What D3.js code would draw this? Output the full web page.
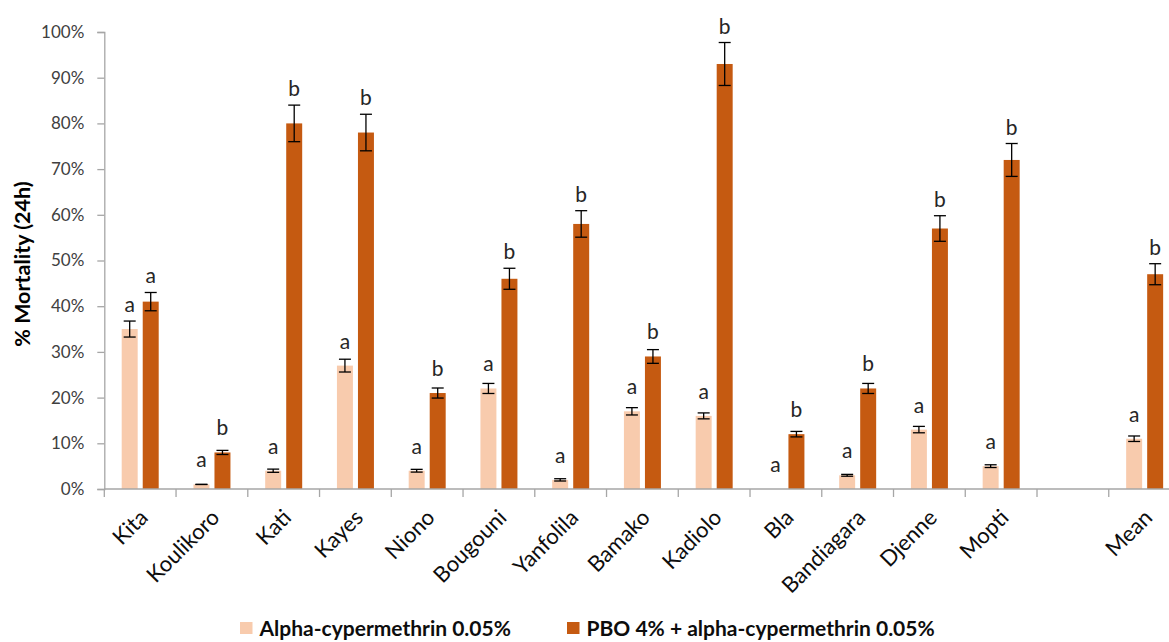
<!DOCTYPE html>
<html>
<head>
<meta charset="utf-8">
<script src="https://cdn.jsdelivr.net/npm/d3@7"></script>
<style>
  html, body { margin: 0; padding: 0; background: #fff; }
  svg { display: block; font-family: Lato, "Open Sans", sans-serif; }
</style>
</head>
<body>
<svg id="chart" width="1169" height="642"></svg>
<script>
// Sites (an empty slot separates the sites from the overall mean)
const categories = ["Kita", "Koulikoro", "Kati", "Kayes", "Niono", "Bougouni", "Yanfolila",
  "Bamako", "Kadiolo", "Bla", "Bandiagara", "Djenne", "Mopti", "", "Mean"];

// % mortality after 24h, alpha-cypermethrin 0.05% alone
const alphaValues = [35, 1, 4, 27, 4, 22, 2, 17, 16, 0, 3, 13, 5, null, 11];
const alphaErrors = [1.75, 0, 0.35, 1.4, 0.3, 1.1, 0.25, 0.8, 0.65, null, 0.2, 0.7, 0.3, null, 0.6];
const alphaLetters = ["a", "a", "a", "a", "a", "a", "a", "a", "a", "a", "a", "a", "a", "", "a"];

// % mortality after 24h, PBO 4% pre-exposure + alpha-cypermethrin 0.05%
const pboValues = [41, 8, 80, 78, 21, 46, 58, 29, 93, 12, 22, 57, 72, null, 47];
const pboErrors = [2, 0.45, 4, 4, 1.1, 2.3, 2.9, 1.5, 4.7, 0.6, 1.1, 2.8, 3.6, null, 2.3];
const pboLetters = ["a", "b", "b", "b", "b", "b", "b", "b", "b", "b", "b", "b", "b", "", "b"];

const seriesNames = ["Alpha-cypermethrin 0.05%", "PBO 4% + alpha-cypermethrin 0.05%"];
const seriesColors = ["#F8CBAD", "#C55A11"];

const yTicks = [0, 10, 20, 30, 40, 50, 60, 70, 80, 90, 100];

const svg = d3.select("#chart");
const plotLeft = 104.3, plotRight = 1180.5, plotTop = 32, plotBottom = 489;

const x0 = d3.scaleBand().domain(d3.range(categories.length)).range([plotLeft, plotRight]).padding(0);
const x1 = d3.scaleBand().domain([0, 1]).range([17.4, 54.4]).paddingInner(0.24);
const y = d3.scaleLinear().domain([0, 100]).range([plotBottom, plotTop]);

const series = [
  { values: alphaValues, errors: alphaErrors, letters: alphaLetters },
  { values: pboValues, errors: pboErrors, letters: pboLetters }
];

// Y axis
const yAxis = svg.append("g")
  .attr("transform", `translate(${plotLeft},0)`)
  .call(d3.axisLeft(y).tickValues(yTicks).tickSize(7).tickPadding(13).tickFormat(d => d + "%"));
yAxis.select(".domain").attr("stroke", "#A6A6A6").attr("stroke-width", 1.3);
yAxis.selectAll(".tick line").attr("stroke", "#A6A6A6").attr("stroke-width", 1.3);
yAxis.selectAll(".tick text").attr("fill", "#404040").style("font-size", "17px")
  .style("font-family", "Lato, sans-serif");

// Y title
svg.append("text")
  .attr("transform", `translate(30,264) rotate(-90)`)
  .attr("text-anchor", "middle")
  .style("font-size", "21.5px").style("font-weight", "bold").attr("fill", "#000")
  .text("% Mortality (24h)");

// Bars, error bars and significance letters for each series
series.forEach((s, si) => {
  const g = svg.append("g");
  const items = categories.map((c, i) => ({ i, v: s.values[i], e: s.errors[i], l: s.letters[i] }))
    .filter(d => d.v !== null);
  const cx = d => x0(d.i) + x1(si) + x1.bandwidth() / 2;

  g.selectAll("rect").data(items).join("rect")
    .attr("x", d => x0(d.i) + x1(si))
    .attr("width", x1.bandwidth())
    .attr("y", d => y(d.v))
    .attr("height", d => y(0) - y(d.v))
    .attr("fill", seriesColors[si]);

  const eb = g.selectAll("g.err").data(items.filter(d => d.e !== null)).join("g").attr("class", "err");
  eb.append("line")
    .attr("x1", cx).attr("x2", cx)
    .attr("y1", d => y(d.v + d.e)).attr("y2", d => y(d.v - d.e));
  eb.append("line")
    .attr("x1", d => cx(d) - 6).attr("x2", d => cx(d) + 6)
    .attr("y1", d => y(d.v + d.e)).attr("y2", d => y(d.v + d.e));
  eb.append("line")
    .attr("x1", d => cx(d) - 6).attr("x2", d => cx(d) + 6)
    .attr("y1", d => y(d.v - d.e)).attr("y2", d => y(d.v - d.e));
  eb.selectAll("line").attr("stroke", "#000").attr("stroke-width", 1.3);

  g.selectAll("text.letter").data(items).join("text").attr("class", "letter")
    .attr("x", cx)
    .attr("y", d => Math.min(y(d.v + (d.e || 0)) - 9, y(d.v) - 17))
    .attr("text-anchor", "middle")
    .style("font-size", "21px").attr("fill", "#262626")
    .text(d => d.l);
});

// X axis
const xAxis = svg.append("g");
xAxis.append("line")
  .attr("x1", plotLeft).attr("x2", plotRight).attr("y1", plotBottom).attr("y2", plotBottom)
  .attr("stroke", "#A6A6A6").attr("stroke-width", 1.3);
xAxis.selectAll("line.tick").data(d3.range(categories.length + 1)).join("line").attr("class", "tick")
  .attr("x1", i => plotLeft + i * x0.step()).attr("x2", i => plotLeft + i * x0.step())
  .attr("y1", plotBottom).attr("y2", plotBottom + 8)
  .attr("stroke", "#A6A6A6").attr("stroke-width", 1.3);
xAxis.selectAll("text").data(categories).join("text")
  .attr("transform", (c, i) => `translate(${x0(i) + x0.bandwidth() / 2 + 9},519) rotate(-45)`)
  .attr("text-anchor", "end")
  .style("font-size", "22px").attr("fill", "#0D0D0D")
  .text(c => c);

// Legend
const legendItems = [
  { name: seriesNames[0], color: seriesColors[0], x: 240 },
  { name: seriesNames[1], color: seriesColors[1], x: 567 }
];
const lg = svg.append("g").selectAll("g").data(legendItems).join("g")
  .attr("transform", d => `translate(${d.x},622)`);
lg.append("rect").attr("width", 12.5).attr("height", 12).attr("fill", d => d.color);
lg.append("text").attr("x", 19.5).attr("y", 13.5)
  .style("font-size", "21px").style("font-weight", "bold").attr("fill", "#0D0D0D")
  .text(d => d.name);
</script>
</body>
</html>
